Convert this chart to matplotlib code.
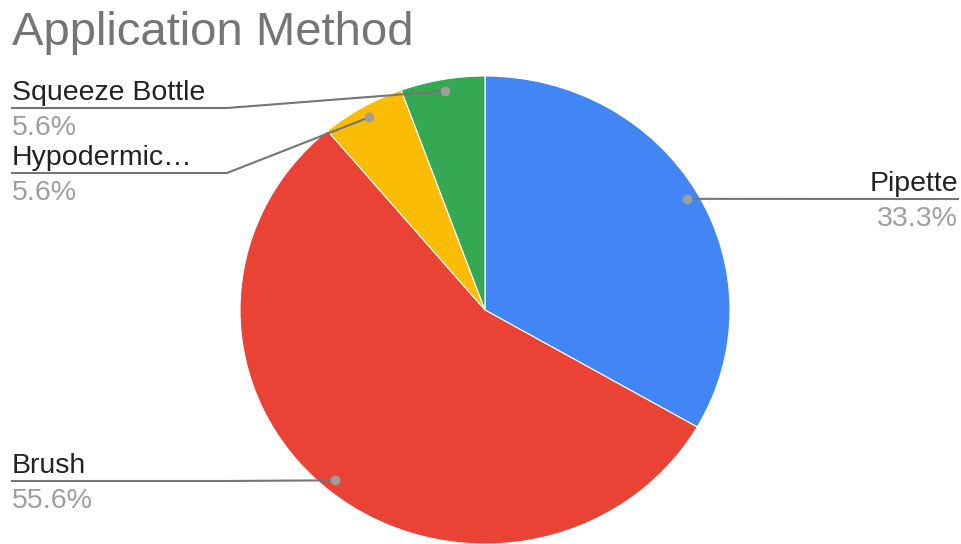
import matplotlib.pyplot as plt
import numpy as np

methods = ["Pipette", "Brush", "Hypodermic…", "Squeeze Bottle"]
counts = [6, 10, 1, 1]
colors = ["#4285F4", "#EA4335", "#FBBC04", "#34A853"]

# label layout: side and y of the leader line (pixels from top)
sides = ["right", "left", "left", "left"]
line_ys = [199, 481, 173, 108]

plt.rcParams['font.family'] = ['Liberation Sans', 'DejaVu Sans']

W, H = 961, 544
fig = plt.figure(figsize=(W / 100, H / 100), dpi=100)

ax = fig.add_axes([240 / W, 0 / H, 490 / W, 468 / H])
wedges, _ = ax.pie(counts, colors=colors, startangle=90, counterclock=False,
                   wedgeprops=dict(edgecolor='white', linewidth=0.8))
ax.set_aspect('auto')
ax.set_xlim(-1, 1)
ax.set_ylim(-1, 1)

ov = fig.add_axes([0, 0, 1, 1])
ov.set_xlim(0, W)
ov.set_ylim(H, 0)
ov.axis('off')

ov.text(12, 45, "Application Method", fontsize=34, color='#757575', va='baseline')

total = sum(counts)
for w, name, n, side, ly in zip(wedges, methods, counts, sides, line_ys):
    mid = np.deg2rad((w.theta1 + w.theta2) / 2)
    dx, dy = ax.transData.transform((0.95 * np.cos(mid), 0.95 * np.sin(mid)))
    px, py = dx, H - dy
    pct = f"{100 * n / total:.1f}%"
    if side == "left":
        ov.plot([12, 227, px], [ly, ly, py], color='#757575', lw=1.5, zorder=2)
        tx, ha = 12, 'left'
    else:
        ov.plot([px, 958], [py, ly], color='#757575', lw=1.5, zorder=2)
        tx, ha = 958, 'right'
    ov.plot(px, py, 'o', ms=6, color='#9e9e9e', zorder=3)
    ov.text(tx, ly - 8, name, fontsize=20.5, color='#222222', ha=ha, va='baseline')
    ov.text(tx, ly + 27, pct, fontsize=20.5, color='#9e9e9e', ha=ha, va='baseline')

fig.savefig('out.png', dpi=100)
